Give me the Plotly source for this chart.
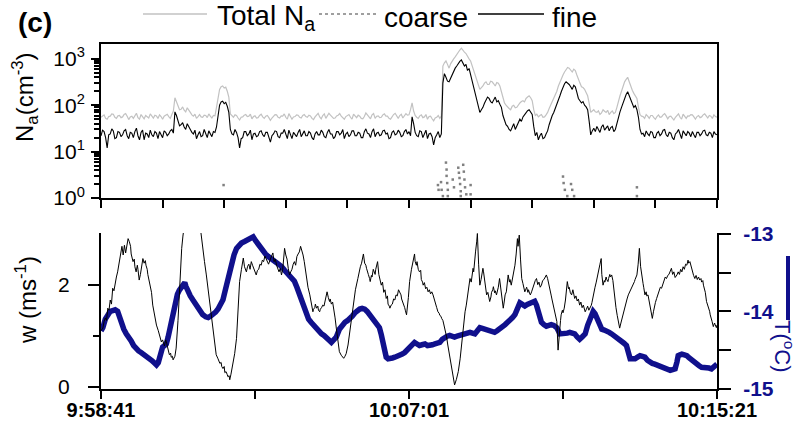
import plotly.graph_objects as go

# ---------------- data ----------------
START_LABEL = "9:58:41"
MID_LABEL = "10:07:01"
END_LABEL = "10:15:21"

# aerosol number concentration, 2.5 s averages from 9:58:41 (cm^-3)
total_na = [
    # 0 - 117.5 s
    55, 60, 62, 52, 50, 57, 58, 65, 64, 55, 52, 59, 60, 54, 56, 63, 66, 58, 49, 56,
    58, 52, 61, 67, 54, 50, 63, 58, 51, 60, 57, 53, 65, 59, 53, 61, 59, 52, 62, 57,
    50, 58, 60, 64, 57, 52, 63, 75,
    # 120 - 147.5 s
    145, 120, 90, 80, 82, 92, 78, 72, 88, 76, 70, 62,
    # 150 - 187.5 s
    58, 64, 52, 57, 63, 56, 55, 61, 60, 54, 65, 58, 53, 60, 59, 90,
    # 190 - 212.5 s
    150, 220, 250, 260, 235, 245, 200, 150, 65, 58,
    # 215 - 502.5 s
    55, 62, 60, 53, 48, 55, 56, 61, 63, 57, 58, 64, 51, 57, 59, 53, 54, 60, 64, 56,
    52, 58, 60, 54, 47, 53, 57, 63, 62, 55, 53, 59, 58, 65, 55, 50, 66, 59, 50, 56,
    57, 62, 61, 55, 53, 60, 63, 57, 55, 61, 59, 52, 49, 56, 62, 67, 56, 51, 60, 65,
    52, 58, 67, 61, 57, 52, 53, 59, 61, 66, 58, 53, 50, 57, 60, 63, 55, 50, 64, 59,
    54, 61, 58, 52, 51, 57, 68, 62, 56, 51, 62, 66, 52, 58, 59, 54, 55, 62, 65, 58,
    58, 52, 50, 57, 63, 67, 57, 52, 60, 64, 53, 59, 66, 61, 62, 80,
    # 505 - 507.5 s
    112, 75,
    # 510 - 552.5 s
    60, 55, 52, 59, 62, 54, 56, 63, 50, 57, 58, 51, 46, 53, 55, 60, 52, 58,
    # 555 - 877.5 s
    700, 820, 900, 760, 630, 780, 900, 1000, 1100, 1250, 1400, 1550, 1700, 1500, 1400, 1300,
    1100, 1000, 900, 700,
    560, 420, 320, 260, 220, 240, 260, 300, 320, 280, 280, 330, 320, 290, 260, 310,
    300, 260, 200, 150,
    112, 100, 90, 85, 80, 95, 100, 88, 90, 102, 112, 120, 125, 118, 140, 150, 160, 145,
    125, 80,
    60, 64, 56, 60, 63, 55, 56, 62, 70, 85, 100, 120, 140, 170, 200, 260, 320, 390,
    450, 520,
    600, 650, 630, 580, 520, 600, 560, 450, 350, 300, 250, 240, 220, 190, 160, 110, 70, 75,
    80, 72,
    70, 76, 63, 68, 80, 74, 70, 78, 63, 70, 75, 66, 70, 90, 125, 160, 200, 260, 320, 360,
    400, 320, 250, 210, 180, 160, 140, 90, 63, 58,
    # 880 - 1000 s
    57, 52, 63, 58, 52, 60, 60, 54, 50, 57, 62, 55, 56, 62, 66, 59, 51, 57, 58, 53,
    48, 55, 60, 65, 55, 50, 64, 58, 52, 59, 58, 63, 62, 56, 50, 57, 60, 54, 56, 62,
    65, 59, 53, 60, 58, 52, 62, 57, 55,
]
fine_na = [
    # 0 - 117.5 s
    22, 29, 27, 20, 12, 23, 24, 31, 28, 19, 20, 27, 26, 21, 23, 28, 30, 22, 19, 26,
    25, 20, 27, 32, 22, 18, 26, 29, 18, 25, 24, 20, 29, 23, 21, 27, 25, 19, 27, 24,
    20, 28, 26, 22, 24, 28, 30, 25,
    # 120 - 147.5 s
    72, 60, 45, 36, 38, 42, 34, 30, 40, 33, 30, 26,
    # 150 - 187.5 s
    24, 29, 19, 23, 27, 21, 22, 30, 25, 20, 28, 24, 21, 27, 26, 34,
    # 190 - 212.5 s
    60, 100, 118, 122, 108, 115, 95, 70, 30, 24,
    # 215 - 502.5 s
    23, 30, 26, 20, 12, 19, 20, 27, 27, 22, 24, 29, 18, 24, 25, 21, 22, 27, 28, 23,
    21, 26, 26, 19, 16, 22, 24, 28, 27, 21, 20, 25, 25, 30, 23, 19, 29, 24, 19, 26,
    24, 21, 26, 30, 21, 25, 28, 22, 22, 27, 25, 20, 18, 24, 27, 23, 23, 29, 26, 21,
    20, 26, 30, 24, 24, 19, 21, 27, 27, 23, 25, 30, 19, 24, 26, 21, 23, 28, 28, 22,
    22, 26, 25, 20, 20, 27, 31, 25, 24, 20, 27, 31, 21, 25, 26, 22, 23, 28, 29, 24,
    25, 19, 20, 26, 28, 23, 24, 29, 26, 21, 22, 27, 30, 24, 27, 22,
    # 505 - 507.5 s
    56, 40,
    # 510 - 552.5 s
    26, 22, 21, 28, 27, 20, 24, 29, 19, 24, 25, 21, 14, 20, 23, 27, 20, 24,
    # 555 - 877.5 s
    300, 480, 400, 330, 320, 380, 450, 560, 630, 700, 800, 880, 950, 820, 700, 760,
    560, 620, 450, 330,
    250, 170, 125, 85, 70, 80, 90, 110, 125, 150, 140, 120, 112, 135, 150, 118, 125, 105,
    90, 60,
    45, 38, 35, 30, 28, 33, 40, 30, 35, 42, 50, 45, 56, 62, 70, 76, 80, 72, 63, 35,
    22, 26, 18, 22, 25, 19, 20, 24, 28, 38, 50, 60, 70, 85, 100, 130, 160, 200, 250, 290,
    320, 300, 280, 250, 220, 270, 250, 190, 140, 125, 112, 120, 100, 92, 80, 45, 23, 28,
    32, 27,
    35, 30, 26, 34, 38, 29, 32, 36, 28, 33, 35, 27, 30, 42, 56, 72, 90, 115, 140, 170,
    195, 160, 125, 105, 90, 98, 80, 55, 30, 24,
    # 880 - 1000 s
    25, 21, 28, 24, 22, 27, 26, 20, 20, 25, 27, 22, 24, 29, 30, 23, 21, 26, 25, 20,
    18, 24, 26, 30, 23, 19, 28, 24, 22, 27, 25, 21, 27, 23, 20, 26, 26, 22, 24, 28,
    29, 23, 22, 26, 25, 20, 27, 24, 23,
]
assert len(total_na) == 401 and len(fine_na) == 401
t_na = [2.5 * i for i in range(len(fine_na))]

# coarse-mode counts (only the non-zero samples)
coarse_t = [199,
            547, 548, 552, 553, 555, 560, 561, 561, 562, 563, 563, 571, 573,
            580, 581, 582, 583, 584, 584, 588, 589, 590, 591, 593, 600, 600,
            750, 751, 753, 757, 763, 765, 768, 870, 870]
coarse_na = [1.9,
             1.9, 1.5, 2.2, 1.5, 1.1, 5.8, 4.1, 3.0, 2.1, 1.5, 1.1, 2.5, 1.7,
             4.5, 3.5, 2.7, 2.0, 1.4, 1.1, 5.2, 3.7, 2.5, 1.7, 1.2, 1.9, 1.2,
             2.9, 2.1, 1.5, 1.1, 2.0, 1.5, 1.1, 1.7, 1.1]

# vertical wind speed (m s^-1), seconds after 9:58:41
w_t = [
    0, 3, 5, 7, 9, 11, 13, 15, 17, 19, 21, 23, 25, 27, 30,
    33, 34, 36, 38, 40, 41, 43, 44, 46, 48, 49, 51, 52, 54, 55,
    57, 59, 60, 62, 64, 65, 67, 68, 70, 72, 73, 75, 76, 78, 79,
    82, 84, 87, 90, 93, 95, 97, 98, 100, 102, 103, 105, 106, 108, 109,
    111, 113, 114, 116, 117, 120, 122, 125, 127, 129, 131, 133, 135, 140, 150,
    158, 162, 165, 168, 171, 174, 176, 179, 182, 185, 187, 190, 192, 193, 195,
    196, 198, 200, 201, 203, 205, 206, 208, 209, 211, 214, 217, 220, 223, 225,
    228, 230, 231, 233, 235, 236, 238, 240, 242, 244, 246, 248, 250, 252, 254,
    256, 258, 260, 262, 264, 266, 268, 270, 272, 275, 277, 279, 281, 283, 285,
    287, 289, 291, 293, 295, 296, 298, 300, 302, 304, 306, 308, 310, 312, 314,
    316, 318, 320, 322, 324, 325, 327, 328, 330, 331, 333, 336, 339, 342, 344,
    345, 347, 348, 350, 352, 353, 355, 356, 358, 360, 362, 364, 365, 367, 369,
    371, 372, 374, 376, 377, 380, 382, 385, 387, 390, 392, 394, 396, 398, 401,
    405, 409, 413, 417, 419, 421, 423, 425, 426, 428, 430, 431, 433, 434, 436,
    437, 439, 440, 442, 443, 445, 446, 448, 449, 451, 453, 455, 457, 459, 461,
    463, 465, 466, 468, 469, 471, 473, 475, 477, 479, 481, 483, 485, 487, 488,
    490, 491, 493, 494, 496, 499, 501, 504, 506, 507, 509, 510, 512, 513, 515,
    517, 519, 520, 522, 523, 525, 527, 529, 531, 533, 535, 537, 539, 541, 543,
    545, 547, 549, 550, 552, 553, 555, 556, 558, 561, 563, 566, 569, 572, 574,
    577, 580, 583, 585, 588, 591, 593, 595, 597, 599, 601, 602, 604, 605, 606,
    608, 610, 611, 613, 615, 617, 618, 620, 621, 623, 625, 626, 628, 629, 631,
    633, 634, 636, 637, 639, 640, 642, 644, 645, 647, 649, 650, 652, 653, 655,
    656, 658, 660, 661, 663, 664, 666, 668, 669, 671, 672, 674, 676, 677, 679,
    681, 683, 685, 686, 688, 690, 691, 693, 694, 696, 697, 699, 701, 703, 705,
    707, 709, 711, 713, 715, 717, 719, 721, 723, 725, 726, 728, 729, 731, 732,
    734, 736, 737, 739, 740, 742, 744, 746, 747, 749, 750, 752, 754, 755, 757,
    759, 760, 762, 764, 766, 767, 769, 771, 773, 775, 777, 779, 781, 783, 786,
    788, 790, 792, 794, 796, 797, 799, 802, 804, 805, 807, 808, 810, 812, 813,
    815, 817, 818, 820, 821, 823, 824, 826, 827, 829, 831, 832, 834, 836, 838,
    840, 842, 844, 845, 847, 848, 850, 852, 854, 856, 858, 860, 862, 864, 866,
    867, 869, 870, 872, 874, 876, 878, 880, 881, 883, 885, 886, 888, 889, 891,
    892, 894, 895, 897, 898, 900, 902, 904, 906, 908, 910, 912, 914, 916, 918,
    920, 922, 924, 926, 928, 930, 932, 935, 937, 939, 941, 943, 945, 947, 949,
    951, 953, 954, 956, 958, 960, 962, 964, 966, 968, 970, 972, 974, 975, 977,
    978, 980, 981, 983, 985, 986, 988, 989, 991, 992, 994, 996, 997, 999, 1000,
]
w_ms = [
    1.10, 1.15, 1.28, 1.35, 1.30, 1.54, 1.50, 1.70, 1.62, 1.93, 1.88, 2.05, 2.15, 2.25, 2.45,
    2.64, 2.75, 2.58, 2.77, 2.62, 2.70, 2.82, 2.90, 2.84, 2.75, 2.60, 2.52, 2.45, 2.50, 2.35,
    2.25, 2.38, 2.30, 2.09, 2.20, 2.30, 2.40, 2.51, 2.42, 2.47, 2.38, 2.30, 2.20, 2.10, 2.03,
    1.85, 1.60, 1.40, 1.21, 1.10, 1.02, 0.95, 0.88, 0.92, 0.85, 0.80, 0.92, 0.89, 0.78, 0.70,
    0.63, 0.66, 0.58, 0.60, 0.53, 0.60, 0.76, 1.30, 1.80, 2.30, 2.71, 2.95, 3.15, 3.60, 3.80,
    3.50, 3.04, 2.71, 2.45, 2.19, 1.90, 1.60, 1.30, 1.02, 0.80, 0.63, 0.55, 0.50, 0.46, 0.48,
    0.40, 0.36, 0.40, 0.28, 0.30, 0.24, 0.20, 0.22, 0.14, 0.25, 0.43, 0.65, 0.95, 1.60, 2.06,
    2.30, 2.45, 2.52, 2.35, 2.30, 2.25, 2.36, 2.40, 2.30, 2.45, 2.38, 2.30, 2.24, 2.19, 2.28,
    2.30, 2.40, 2.38, 2.48, 2.45, 2.56, 2.51, 2.45, 2.40, 2.50, 2.55, 2.62, 2.45, 2.50, 2.38,
    2.30, 2.25, 2.32, 2.19, 2.30, 2.40, 2.71, 2.58, 2.50, 2.32, 2.19, 2.25, 2.30, 2.40, 2.45,
    2.38, 2.55, 2.60, 2.64, 2.75, 2.71, 2.62, 2.58, 2.45, 2.35, 2.19, 1.95, 1.80, 1.60, 1.47,
    1.52, 1.55, 1.62, 1.54, 1.58, 1.50, 1.47, 1.52, 1.55, 1.60, 1.58, 1.72, 1.80, 1.86, 1.75,
    1.67, 1.72, 1.62, 1.66, 1.60, 1.35, 1.15, 0.90, 0.69, 0.62, 0.58, 0.56, 0.60, 0.65, 0.82,
    1.20, 1.60, 1.90, 2.12, 2.25, 2.35, 2.42, 2.51, 2.60, 2.42, 2.38, 2.32, 2.26, 2.20, 2.12,
    2.06, 2.18, 2.15, 2.30, 2.25, 2.20, 2.30, 2.38, 2.45, 2.20, 2.10, 1.99, 2.05, 1.85, 1.90,
    1.73, 1.78, 1.62, 1.58, 1.54, 1.60, 1.62, 1.72, 1.70, 1.80, 1.78, 1.90, 1.86, 1.80, 1.72,
    1.66, 1.60, 1.55, 1.50, 1.41, 1.75, 2.06, 2.30, 2.45, 2.51, 2.60, 2.45, 2.38, 2.45, 2.30,
    2.25, 2.28, 2.10, 2.05, 1.99, 2.04, 1.92, 1.95, 1.86, 1.90, 1.82, 1.86, 1.80, 1.70, 1.62,
    1.55, 1.47, 1.44, 1.40, 1.38, 1.34, 1.30, 1.25, 1.15, 0.98, 0.82, 0.60, 0.36, 0.15, 0.04,
    0.15, 0.30, 0.55, 0.82, 1.15, 1.47, 1.60, 1.80, 2.00, 2.12, 2.05, 2.20, 2.32, 2.25, 2.45,
    2.64, 2.85, 3.00, 2.40, 1.99, 2.10, 2.20, 2.32, 2.25, 2.05, 1.90, 1.80, 1.85, 1.75, 1.67,
    1.76, 1.85, 1.90, 1.96, 1.84, 1.88, 1.80, 1.88, 1.95, 2.12, 1.95, 1.80, 1.65, 1.54, 1.70,
    1.80, 1.86, 2.05, 2.19, 2.05, 2.10, 1.99, 2.10, 2.20, 2.30, 2.38, 2.60, 2.90, 2.75, 2.97,
    2.50, 2.12, 2.02, 1.95, 1.86, 1.92, 1.95, 1.85, 1.90, 1.82, 1.80, 1.86, 1.95, 2.00, 2.08,
    2.12, 2.00, 2.05, 1.95, 1.99, 2.08, 2.10, 2.15, 2.19, 2.12, 2.05, 1.95, 1.86, 1.78, 1.72,
    1.60, 1.50, 1.45, 1.35, 1.28, 0.72, 1.10, 1.30, 1.41, 1.50, 1.45, 1.54, 1.70, 1.80, 2.06,
    1.92, 1.95, 1.84, 1.80, 1.90, 1.85, 1.73, 1.78, 1.68, 1.72, 1.60, 1.66, 1.55, 1.60, 1.47,
    1.52, 1.58, 1.50, 1.54, 1.60, 1.65, 1.80, 1.95, 2.05, 2.12, 2.22, 2.30, 2.40, 2.51, 2.20,
    1.99, 2.08, 2.05, 2.15, 2.10, 2.06, 2.12, 2.20, 2.15, 2.19, 2.08, 1.95, 1.67, 1.55, 1.40,
    1.30, 1.15, 1.25, 1.30, 1.40, 1.47, 1.58, 1.65, 1.72, 1.80, 1.85, 1.90, 1.96, 1.99, 2.06,
    2.10, 2.16, 2.19, 2.40, 2.71, 2.35, 2.12, 2.02, 1.95, 1.80, 1.86, 1.78, 1.80, 1.73, 1.62,
    1.55, 1.42, 1.34, 1.48, 1.55, 1.65, 1.73, 1.80, 1.85, 1.95, 1.93, 2.00, 2.05, 2.15, 2.12,
    2.18, 2.20, 2.28, 2.32, 2.20, 2.25, 2.14, 2.19, 2.25, 2.20, 2.30, 2.25, 2.35, 2.30, 2.40,
    2.38, 2.48, 2.42, 2.45, 2.35, 2.30, 2.18, 2.12, 2.18, 2.10, 2.15, 2.09, 2.12, 2.05, 2.08,
    1.99, 1.92, 1.85, 1.67, 1.60, 1.55, 1.48, 1.41, 1.34, 1.28, 1.18, 1.25, 1.22, 1.16, 1.21,
]
assert len(w_t) == len(w_ms)

# air temperature (deg C)
temp_t = [0, 3, 7, 11, 15, 19, 23, 27, 30, 33, 37, 41, 45, 49, 53, 57, 61, 65, 69, 73, 78, 82, 86,
          90, 93, 95, 98, 100, 103, 106, 109, 111, 114, 117, 121, 124, 127, 129, 132, 136, 138, 141,
          145, 149, 153, 157, 161, 165, 170, 174, 178, 182, 186, 190, 194, 198, 202, 206, 209, 212,
          216, 220, 224, 228, 233, 239, 243, 247, 251, 255, 259, 263, 267, 271, 276, 282, 287, 293,
          298, 304, 309, 314, 318, 322, 326, 331, 333, 337, 341, 345, 350, 354, 358, 362, 366, 370,
          374, 378, 382, 387, 391, 396, 400, 404, 408, 412, 416, 420, 424, 428, 432, 436, 440, 444,
          448, 452, 455, 458, 461, 463, 466, 469, 473, 477, 481, 485, 489, 493, 497, 501, 505, 509,
          513, 517, 521, 526, 530, 534, 538, 542, 546, 550, 554, 558, 562, 566, 570, 574, 578, 582,
          586, 591, 595, 599, 603, 607, 611, 615, 619, 623, 627, 631, 635, 639, 643, 647, 651, 656,
          660, 664, 668, 672, 676, 680, 684, 688, 692, 696, 700, 704, 707, 710, 713, 715, 719, 723,
          727, 731, 735, 740, 745, 749, 753, 757, 761, 765, 769, 773, 777, 781, 786, 790, 794, 797,
          799, 802, 805, 809, 813, 817, 821, 825, 829, 833, 837, 841, 845, 849, 853, 856, 859, 863,
          867, 871, 875, 879, 883, 887, 891, 895, 899, 903, 907, 912, 916, 920, 924, 928, 932, 935,
          937, 940, 943, 947, 951, 955, 959, 963, 967, 971, 975, 979, 983, 987, 991, 995, 1000]
temp_c = [-14.25, -14.21, -14.10, -14.04, -14.00, -13.99, -13.98, -14.00, -14.08, -14.17, -14.23,
          -14.29, -14.33, -14.38, -14.44, -14.49, -14.51, -14.53, -14.55, -14.57, -14.60, -14.63,
          -14.66, -14.69, -14.66, -14.59, -14.52, -14.46, -14.44, -14.42, -14.33, -14.25, -14.15,
          -14.04, -13.90, -13.78, -13.73, -13.70, -13.66, -13.63, -13.68, -13.74, -13.80, -13.85,
          -13.90, -13.95, -14.00, -14.04, -14.07, -14.08, -14.06, -14.04, -14.01, -13.97, -13.92,
          -13.85, -13.72, -13.57, -13.46, -13.36, -13.27, -13.19, -13.15, -13.12, -13.10, -13.08,
          -13.06, -13.04, -13.09, -13.14, -13.19, -13.23, -13.26, -13.29, -13.32, -13.34, -13.37,
          -13.42, -13.47, -13.53, -13.57, -13.61, -13.69, -13.78, -13.85, -13.95, -14.04, -14.10,
          -14.14, -14.18, -14.23, -14.26, -14.29, -14.31, -14.33, -14.37, -14.40, -14.37, -14.33,
          -14.23, -14.18, -14.14, -14.12, -14.10, -14.06, -14.02, -13.99, -13.97, -13.96, -13.97,
          -14.00, -14.04, -14.08, -14.12, -14.16, -14.21, -14.30, -14.40, -14.52, -14.59, -14.61,
          -14.61, -14.60, -14.59, -14.58, -14.57, -14.55, -14.53, -14.50, -14.46, -14.43, -14.40,
          -14.42, -14.44, -14.43, -14.42, -14.44, -14.44, -14.43, -14.42, -14.41, -14.40, -14.36,
          -14.33, -14.32, -14.31, -14.33, -14.33, -14.32, -14.31, -14.30, -14.29, -14.28, -14.27,
          -14.28, -14.29, -14.25, -14.21, -14.22, -14.23, -14.24, -14.25, -14.26, -14.27, -14.25,
          -14.23, -14.21, -14.17, -14.14, -14.12, -14.08, -14.04, -13.96, -13.89, -13.91, -13.93,
          -13.91, -13.89, -13.88, -13.87, -13.92, -14.00, -14.08, -14.14, -14.17, -14.19, -14.18,
          -14.17, -14.18, -14.21, -14.29, -14.29, -14.29, -14.28, -14.27, -14.28, -14.29, -14.33,
          -14.36, -14.33, -14.29, -14.18, -14.08, -14.03, -14.00, -14.03, -14.08, -14.16, -14.23,
          -14.24, -14.25, -14.27, -14.29, -14.31, -14.33, -14.36, -14.38, -14.41, -14.44, -14.52,
          -14.61, -14.61, -14.61, -14.59, -14.57, -14.58, -14.59, -14.63, -14.66, -14.67, -14.68,
          -14.69, -14.70, -14.72, -14.74, -14.75, -14.76, -14.75, -14.74, -14.65, -14.57, -14.56,
          -14.55, -14.56, -14.57, -14.60, -14.63, -14.66, -14.68, -14.70, -14.72, -14.72, -14.72,
          -14.73, -14.74, -14.71, -14.68]
assert len(temp_t) == len(temp_c)

# ---------------- layout helpers ----------------
W, H = 800, 428
L, R, T, B = 101, 83, 44, 39
PW = W - L - R
PH = H - T - B


def fx(x_px):
    return (x_px - L) / PW


def fy(y_px):
    return (H - B - y_px) / PH


NAVY = "#10108c"
FONT = "Liberation Sans, Arial, sans-serif"

fig = go.Figure()

# top panel: aerosol number concentration
fig.add_trace(go.Scatter(x=t_na, y=total_na, xaxis="x2", yaxis="y3", mode="lines",
                         line=dict(color="#c2c2c2", width=1.2), name="Total Na"))
fig.add_trace(go.Scatter(x=coarse_t, y=coarse_na, xaxis="x2", yaxis="y3", mode="markers",
                         marker=dict(color="#808080", size=2.5, symbol="square"), name="coarse"))
fig.add_trace(go.Scatter(x=t_na, y=fine_na, xaxis="x2", yaxis="y3", mode="lines",
                         line=dict(color="black", width=1.1), name="fine"))

# bottom panel: temperature (base axis, right) and vertical wind (overlay, left)
fig.add_trace(go.Scatter(x=temp_t, y=temp_c, xaxis="x", yaxis="y", mode="lines",
                         line=dict(color=NAVY, width=5.5), name="T"))
fig.add_trace(go.Scatter(x=w_t, y=w_ms, xaxis="x", yaxis="y2", mode="lines",
                         line=dict(color="black", width=1), name="w"))

axis_common = dict(showgrid=False, zeroline=False, showline=True, linecolor="black",
                   linewidth=2, ticks="outside", tickcolor="black", tickwidth=2,
                   automargin=False)

log_minor = [m * 10 ** k for k in range(3) for m in range(2, 10)]

fig.update_layout(
    width=W, height=H,
    margin=dict(l=L, r=R, t=T, b=B, autoexpand=False),
    paper_bgcolor="white", plot_bgcolor="white",
    showlegend=False,
    font=dict(family=FONT, color="black"),
    xaxis=dict(domain=[0, 1], anchor="y", range=[0, 1000],
               tickvals=[0, 250, 500, 750, 1000],
               ticktext=[START_LABEL, "", MID_LABEL, "", END_LABEL],
               ticklen=8, ticklabelstandoff=-6,
               tickfont=dict(size=20, weight="bold", family=FONT),
               **axis_common),
    xaxis2=dict(domain=[0, 1], anchor="y3", range=[0, 1000], dtick=100, tick0=0,
                ticklen=8, showticklabels=False, mirror=True, **axis_common),
    yaxis=dict(domain=[0, fy(233)], anchor="x", side="right", range=[-15, -12.99],
               tickvals=[-15, -14, -13], ticktext=["-15", "-14", "-13"],
               ticklen=12, ticklabelstandoff=8,
               tickfont=dict(size=21, color=NAVY, weight="bold", family=FONT),
               minor=dict(tickvals=[-14.5, -13.5], ticks="outside", ticklen=12,
                          tickwidth=2, tickcolor="black"),
               **axis_common),
    yaxis2=dict(overlaying="y", anchor="x", side="left", range=[-0.04, 3.01],
                tickvals=[0, 2], ticktext=["0", "2"], ticklen=11, ticklabelstandoff=14,
                tickfont=dict(size=21, family=FONT),
                minor=dict(tickvals=[1], ticks="outside", ticklen=6, tickwidth=2,
                           tickcolor="black"),
                **axis_common),
    yaxis3=dict(domain=[fy(198), 1], anchor="x2", type="log", range=[0, 3.32],
                tickvals=[1, 10, 100, 1000],
                ticktext=["10<sup>0</sup>", "10<sup>1</sup>", "10<sup>2</sup>", "10<sup>3</sup>"],
                ticklen=8, ticklabelstandoff=2, tickfont=dict(size=21, family=FONT),
                mirror=True,
                minor=dict(tickvals=log_minor, ticks="outside", ticklen=5, tickwidth=1.5,
                           tickcolor="black"),
                **axis_common),
)

annotations = [
    dict(text="<b>(c)</b>", x=fx(16), y=fy(22), xanchor="left", yanchor="middle",
         font=dict(size=28)),
    dict(text="Total N<sub>a</sub>", x=fx(215), y=fy(17), xanchor="left", yanchor="middle",
         font=dict(size=28)),
    dict(text="coarse", x=fx(382), y=fy(17), xanchor="left", yanchor="middle",
         font=dict(size=28)),
    dict(text="fine", x=fx(550), y=fy(17), xanchor="left", yanchor="middle",
         font=dict(size=28)),
    dict(text="N<sub>a</sub>(cm<sup>-3</sup>)", x=fx(25), y=fy(97), textangle=-90,
         xanchor="center", yanchor="middle", font=dict(size=24)),
    dict(text="w (ms<sup>-1</sup>)", x=fx(26), y=fy(300), textangle=-90,
         xanchor="center", yanchor="middle", font=dict(size=24)),
    dict(text="T(<sup>o</sup>C)", x=fx(784), y=fy(346), textangle=90,
         xanchor="center", yanchor="middle", font=dict(size=22, color=NAVY)),
]
for a in annotations:
    a.update(xref="paper", yref="paper", showarrow=False)
fig.update_layout(annotations=annotations)

shapes = [
    dict(type="line", x0=fx(143), x1=fx(207), y0=fy(14), y1=fy(14),
         line=dict(color="#c2c2c2", width=1.3)),
    dict(type="line", x0=fx(319), x1=fx(379), y0=fy(14), y1=fy(14),
         line=dict(color="#808080", width=1.5, dash="dot")),
    dict(type="line", x0=fx(478), x1=fx(544), y0=fy(14), y1=fy(14),
         line=dict(color="black", width=1.3)),
    dict(type="line", x0=fx(788), x1=fx(788), y0=fy(256), y1=fy(320),
         line=dict(color=NAVY, width=4)),
]
for s in shapes:
    s.update(xref="paper", yref="paper")
fig.update_layout(shapes=shapes)

fig.write_html("out.html")
